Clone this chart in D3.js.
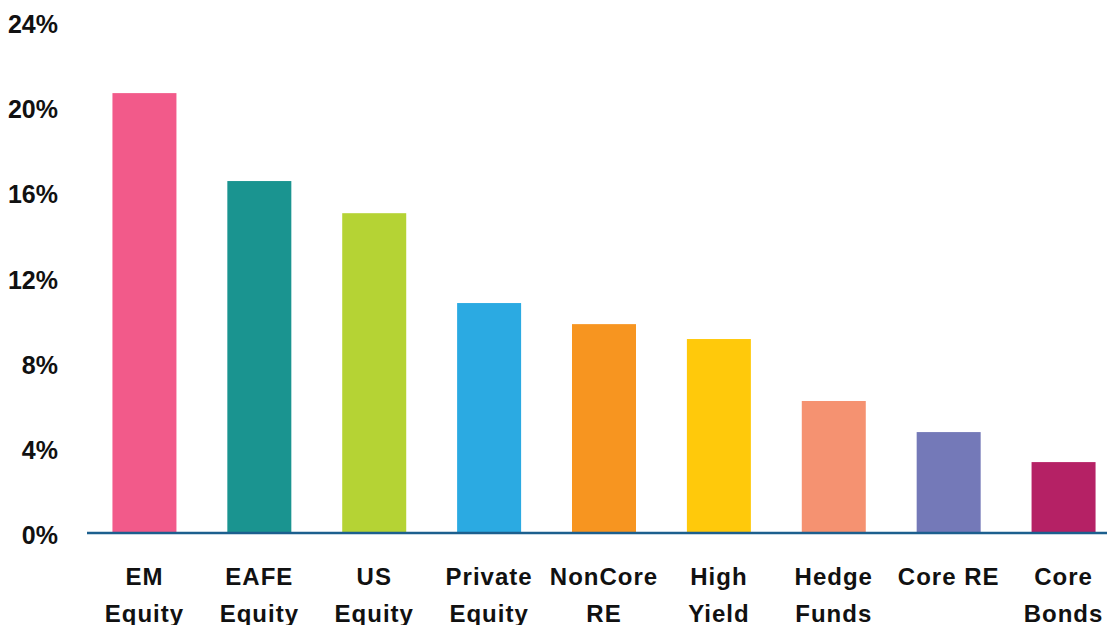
<!DOCTYPE html>
<html>
<head>
<meta charset="utf-8">
<script src="https://cdn.jsdelivr.net/npm/d3@7"></script>
<style>
  body { margin: 0; background: #fff; }
  svg { display: block; }
</style>
</head>
<body>
<div id="chart"></div>
<script>
const categories = ["EM|Equity", "EAFE|Equity", "US|Equity", "Private|Equity", "NonCore|RE", "High|Yield", "Hedge|Funds", "Core RE", "Core|Bonds"];
const values = [20.66, 16.53, 15.02, 10.8, 9.81, 9.11, 6.2, 4.74, 3.33];
const colors = ["#F25A8A", "#1A9490", "#B5D334", "#2BAAE2", "#F79520", "#FFC90B", "#F59271", "#7479B8", "#B52165"];
const yTicks = [0, 4, 8, 12, 16, 20, 24];

const width = 1107, height = 625;

const svg = d3.select("#chart").append("svg")
  .attr("width", width)
  .attr("height", height);

const x = d3.scaleBand()
  .domain(categories)
  .range([55, 1153])
  .paddingInner(0.443)
  .paddingOuter(0.5);

const y = d3.scaleLinear()
  .domain([0, 24])
  .range([533, 22]);

// bars
svg.selectAll("rect.bar")
  .data(values)
  .enter().append("rect")
  .attr("class", "bar")
  .attr("x", (d, i) => x(categories[i]))
  .attr("y", d => y(d))
  .attr("width", x.bandwidth())
  .attr("height", d => y(0) - y(d))
  .attr("fill", (d, i) => colors[i]);

// baseline
svg.append("line")
  .attr("x1", 87)
  .attr("x2", width)
  .attr("y1", y(0))
  .attr("y2", y(0))
  .attr("stroke", "#1C5F8E")
  .attr("stroke-width", 2.5);

// y tick labels
svg.append("g")
  .selectAll("text")
  .data(yTicks)
  .enter().append("text")
  .attr("x", 58)
  .attr("y", d => y(d) + 2)
  .attr("dy", "0.36em")
  .attr("text-anchor", "end")
  .attr("font-family", "'Liberation Sans', Arial, sans-serif")
  .attr("font-weight", "bold")
  .attr("font-size", "25px")
  .attr("fill", "#111")
  .text(d => d + "%");

// category labels
const labels = svg.append("g")
  .selectAll("text")
  .data(categories)
  .enter().append("text")
  .attr("x", d => x(d) + x.bandwidth() / 2)
  .attr("y", 585)
  .attr("text-anchor", "middle")
  .attr("font-family", "'Liberation Sans', Arial, sans-serif")
  .attr("font-weight", "bold")
  .attr("font-size", "24px")
  .attr("letter-spacing", "1px")
  .attr("fill", "#111");

labels.selectAll("tspan")
  .data(d => d.split("|"))
  .enter().append("tspan")
  .attr("x", function() { return d3.select(this.parentNode).attr("x"); })
  .attr("dy", (d, i) => i === 0 ? 0 : 37)
  .text(d => d);
</script>
</body>
</html>
